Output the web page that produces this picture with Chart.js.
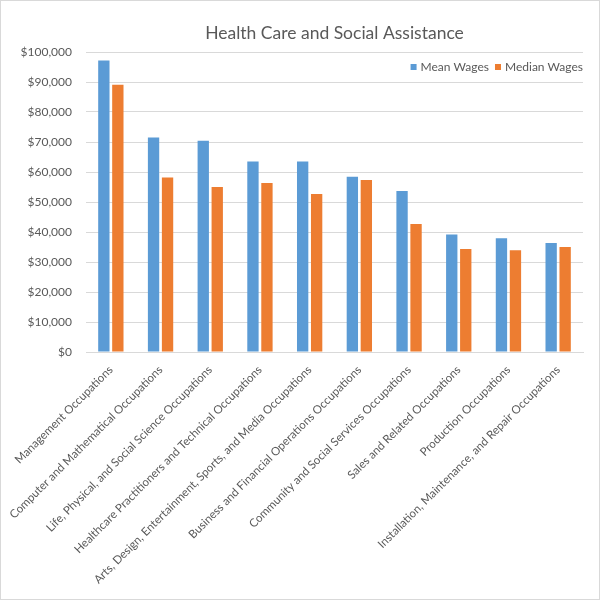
<!DOCTYPE html>
<html>
<head>
<meta charset="utf-8">
<script src="https://cdn.jsdelivr.net/npm/chart.js@4/dist/chart.umd.min.js"></script>
<style>
  html, body { margin: 0; padding: 0; background: #fff; }
  #wrap { width: 600px; height: 600px; position: relative; }
</style>
</head>
<body>
<div id="wrap"><canvas id="chart" width="600" height="600"></canvas></div>
<script>
// --- DATA ---
const categories = [
  "Management Occupations",
  "Computer and Mathematical Occupations",
  "Life, Physical, and Social Science Occupations",
  "Healthcare Practitioners and Technical Occupations",
  "Arts, Design, Entertainment, Sports, and Media Occupations",
  "Business and Financial Operations Occupations",
  "Community and Social Services Occupations",
  "Sales and Related Occupations",
  "Production Occupations",
  "Installation, Maintenance, and Repair Occupations"
];
const meanWages = [97200, 71500, 70400, 63500, 63500, 58400, 53700, 39200, 37900, 36300];
const medianWages = [89100, 58200, 55000, 56300, 52700, 57300, 42700, 34300, 33900, 35000];
const yTicks = [0, 10000, 20000, 30000, 40000, 50000, 60000, 70000, 80000, 90000, 100000];

const TEXT = "#595959";
const GRID = "#d9d9d9";
const FONT = "Lato, 'Open Sans', sans-serif";

// white background + thin frame like the original picture
const framePlugin = {
  id: "frame",
  beforeDraw(chart) {
    const { ctx, width, height } = chart;
    ctx.save();
    ctx.fillStyle = "#fff";
    ctx.fillRect(0, 0, width, height);
    ctx.strokeStyle = GRID;
    ctx.lineWidth = 1;
    ctx.strokeRect(0.5, 0.5, width - 1, height - 1);
    ctx.restore();
  }
};

// legend inside the plot, top right (Excel style), built from the datasets
const insideLegend = {
  id: "insideLegend",
  afterDraw(chart) {
    const { ctx, chartArea } = chart;
    const box = 6, gapText = 4, gapItem = 6;
    const y = chartArea.top + 15;
    ctx.save();
    ctx.font = "12px " + FONT;
    ctx.textBaseline = "middle";
    ctx.textAlign = "left";
    const items = chart.data.datasets.map(ds => ({
      text: ds.label, color: ds.backgroundColor, w: ctx.measureText(ds.label).width
    }));
    let total = items.reduce((s, it) => s + box + gapText + it.w, 0) + gapItem * (items.length - 1);
    let x = chartArea.right - total;
    items.forEach(it => {
      ctx.fillStyle = it.color;
      ctx.fillRect(x, y - box / 2, box, box);
      x += box + gapText;
      ctx.fillStyle = TEXT;
      ctx.fillText(it.text, x, y);
      x += it.w + gapItem;
    });
    ctx.restore();
  }
};

new Chart(document.getElementById("chart"), {
  type: "bar",
  data: {
    labels: categories,
    datasets: [
      { label: "Mean Wages", data: meanWages, backgroundColor: "#5b9bd5" },
      { label: "Median Wages", data: medianWages, backgroundColor: "#ed7d31" }
    ]
  },
  options: {
    responsive: false,
    animation: false,
    devicePixelRatio: 1,
    categoryPercentage: 0.563,
    barPercentage: 0.81,
    layout: { padding: { left: 0, right: 17, top: 0, bottom: 0 } },
    plugins: {
      title: {
        display: true,
        fullSize: false,
        text: "Health Care and Social Assistance",
        color: TEXT,
        font: { family: FONT, size: 17.5, weight: "normal" },
        padding: { top: 23, bottom: 8 }
      },
      legend: { display: false },
      tooltip: { enabled: false }
    },
    scales: {
      x: {
        grid: { display: false },
        border: { color: GRID },
        ticks: {
          color: TEXT,
          font: { family: FONT, size: 11.5 },
          minRotation: 45,
          maxRotation: 45,
          autoSkip: false,
          padding: 3
        },
        afterFit(scale) { scale.height = 248; }
      },
      y: {
        min: 0,
        max: 100000,
        afterBuildTicks(scale) { scale.ticks = yTicks.map(v => ({ value: v })); },
        grid: { color: GRID, drawTicks: false },
        border: { display: false },
        ticks: {
          color: TEXT,
          font: { family: FONT, size: 12 },
          padding: 14,
          callback: (v) => "$" + Number(v).toLocaleString("en-US")
        },
        afterFit(scale) { scale.width = 86; }
      }
    }
  },
  plugins: [framePlugin, insideLegend]
});
</script>
</body>
</html>
